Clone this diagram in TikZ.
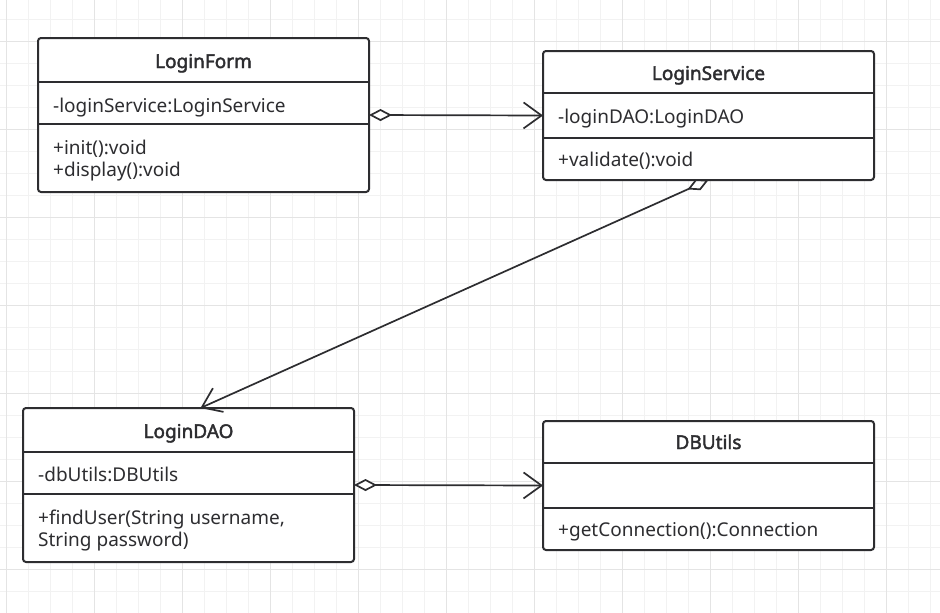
\documentclass[tikz,border=0pt]{standalone}
\usepackage{fontspec}
\setmainfont{Noto Sans}[AutoFakeBold=2.2]
\usepackage{xcolor}
\usepackage{tikz}
\usetikzlibrary{arrows.meta,positioning}

\definecolor{ink}{RGB}{45,45,48}
\definecolor{gridminor}{RGB}{242,242,242}
\definecolor{gridmajor}{RGB}{228,228,228}

\begin{document}
\begin{tikzpicture}[x=1pt, y=-1pt,
  every node/.style={font=\fontsize{19}{22}\selectfont, text=ink},
  cls/.style={draw=ink, line width=2pt, rounded corners=3pt, fill=white,
              inner sep=0pt, outer sep=0pt, minimum width=331pt},
  sep/.style={draw=ink, line width=2pt},
  cname/.style={font=\fontsize{19}{22}\selectfont\bfseries, anchor=base,
              inner sep=0pt},
  member/.style={anchor=base west, inner sep=0pt},
  agg/.style={draw=ink, line width=1.7pt,
              {Diamond[fill=white, length=23pt, width=12pt]}-{Straight Barb[length=18pt, width=26pt]}},
]
\useasboundingbox[fill=white] (0,0) rectangle (940,613);
\foreach \gx in {6,28,...,940} \draw[gridminor, line width=0.8pt] (\gx,0) -- (\gx,613);
\foreach \gy in {19,41,...,613} \draw[gridminor, line width=0.8pt] (0,\gy) -- (940,\gy);
\foreach \gx in {6,94,...,940} \draw[gridmajor, line width=1pt] (\gx,0) -- (\gx,613);
\foreach \gy in {41,129,...,613} \draw[gridmajor, line width=1pt] (0,\gy) -- (940,\gy);

\node[cls, minimum height=154pt] (form) at (203.5,115) {};
\draw[sep] ([yshift=-44pt]form.north west) -- ([yshift=-44pt]form.north east);
\draw[sep] ([yshift=-86pt]form.north west) -- ([yshift=-86pt]form.north east);
\node[cname]  (form-t)  at (203.5,68) {LoginForm};
\node[member] (form-a)  at (53,112)   {-loginService:LoginService};
\node[member] (form-m1) at (53,154)   {+init():void};
\node[member] (form-m2) at (53,176)   {+display():void};

\node[cls, minimum height=129pt] (service) at (708.5,115.5) {};
\draw[sep] ([yshift=-42pt]service.north west) -- ([yshift=-42pt]service.north east);
\draw[sep] ([yshift=-87pt]service.north west) -- ([yshift=-87pt]service.north east);
\node[cname]  (service-t) at (708.5,80) {LoginService};
\node[member] (service-a) at (558,123)  {-loginDAO:LoginDAO};
\node[member] (service-m) at (558,166)  {+validate():void};

\node[cls, minimum height=154pt] (dao) at (188.5,485) {};
\draw[sep] ([yshift=-44pt]dao.north west) -- ([yshift=-44pt]dao.north east);
\draw[sep] ([yshift=-86pt]dao.north west) -- ([yshift=-86pt]dao.north east);
\node[cname]  (dao-t)  at (188.5,438) {LoginDAO};
\node[member] (dao-a)  at (38,481.5)  {-dbUtils:DBUtils};
\node[member] (dao-m1) at (38,524)    {+findUser(String username,};
\node[member] (dao-m2) at (38,546.5)  {String password)};

\node[cls, minimum height=129pt] (dbu) at (708.5,485.5) {};
\draw[sep] ([yshift=-42pt]dbu.north west) -- ([yshift=-42pt]dbu.north east);
\draw[sep] ([yshift=-87pt]dbu.north west) -- ([yshift=-87pt]dbu.north east);
\node[cname]  (dbu-t) at (708.5,449) {DBUtils};
\node[member] (dbu-m) at (558,536)   {+getConnection():Connection};

\draw[agg] (form.east) -- (service.west);
\draw[agg] (service.south) -- ([xshift=12pt]dao.north);
\draw[agg] (dao.east) -- (dbu.west);
\end{tikzpicture}
\end{document}
